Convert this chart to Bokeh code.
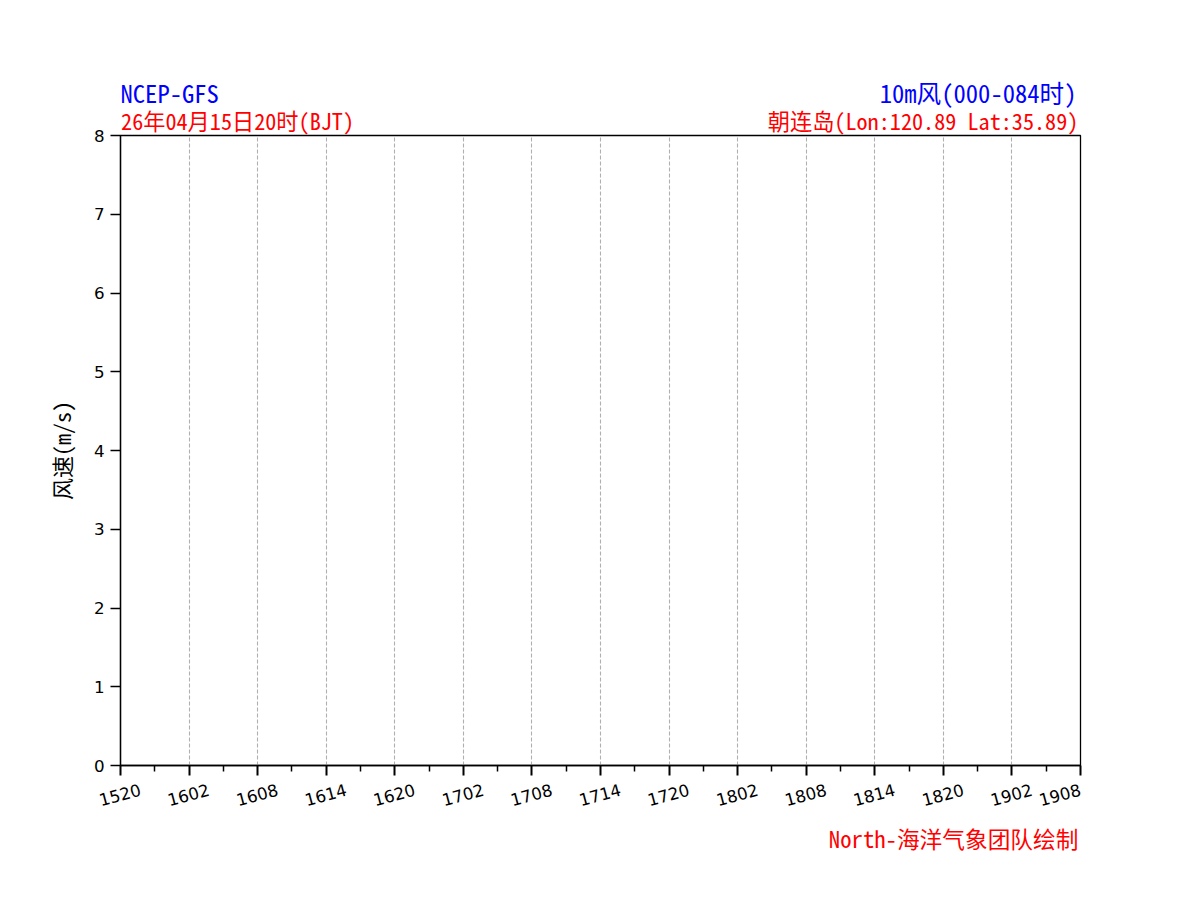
from bokeh.plotting import figure
from bokeh.models import Range1d, FixedTicker, LinearAxis
from bokeh.embed import file_html
from bokeh.resources import INLINE
import math

# ---- data ----
hours = [0, 6, 12, 18, 24, 30, 36, 42, 48, 54, 60, 66, 72, 78, 84]
minor_hours = [3, 9, 15, 21, 27, 33, 39, 45, 51, 57, 63, 69, 75, 81]
tick_labels = ["1520", "1602", "1608", "1614", "1620", "1702", "1708", "1714",
               "1720", "1802", "1808", "1814", "1820", "1902", "1908"]
y_ticks = [0, 1, 2, 3, 4, 5, 6, 7, 8]
wind_hours = []   # no series values shown in the reference
wind_speed = []

title_left_1 = "NCEP-GFS"
title_left_2 = "26年04月15日20时(BJT)"
title_right_1 = "10m风(000-084时)"
title_right_2 = "朝连岛(Lon:120.89 Lat:35.89)"
credit = "North-海洋气象团队绘制"
y_label = "风速(m/s)"

CJK = "'Noto Sans Mono CJK SC', 'Noto Sans CJK SC', sans-serif"
W, H = 1184, 884
L_B, T_B = 120, 135
FRAME_W, FRAME_H = 960, 630
R_B = W - L_B - FRAME_W
B_B = H - T_B - FRAME_H
X_MAX = 84
PX_PER_H = FRAME_W / X_MAX


def mono_width(text, size):
    # half-width latin / full-width CJK in the monospace CJK font
    return sum(size if ord(c) > 0x2E80 else size / 2 for c in text)


def centre_from_left(text, size, left_px):
    return (left_px - L_B + mono_width(text, size) / 2) / PX_PER_H


def centre_from_right(text, size, right_px):
    return (right_px - L_B - mono_width(text, size) / 2) / PX_PER_H


def text_axis(texts, centres, color, size, standoff):
    return LinearAxis(ticker=FixedTicker(ticks=centres, minor_ticks=[]),
                      major_label_overrides={c: t for c, t in zip(centres, texts)},
                      major_label_orientation="horizontal",
                      major_label_text_font=CJK,
                      major_label_text_font_size=f"{size}px",
                      major_label_text_color=color,
                      major_label_standoff=standoff,
                      major_tick_out=0, major_tick_in=0,
                      minor_tick_out=0, minor_tick_in=0,
                      axis_line_color=None)


p = figure(width=W, height=H, output_backend="svg", toolbar_location=None,
           x_range=Range1d(0, X_MAX), y_range=Range1d(0, 8),
           min_border_left=L_B, min_border_right=R_B,
           min_border_top=T_B, min_border_bottom=B_B)
p.background_fill_color = "white"
p.border_fill_color = "white"
p.outline_line_color = "black"
p.outline_line_width = 1.3

p.line(wind_hours, wind_speed, line_color="#1f77b4", line_width=2)

# ---- main x axis: ticks only (configured before extra axes are added) ----
xax = p.xaxis[0]
xax.ticker = FixedTicker(ticks=hours, minor_ticks=minor_hours)
xax.major_label_overrides = {h: "" for h in hours}
xax.major_label_text_font_size = "1px"
xax.major_label_standoff = 0
xax.major_tick_out = 10
xax.major_tick_in = 0
xax.minor_tick_out = 6
xax.minor_tick_in = 0
xax.major_tick_line_width = 2
xax.minor_tick_line_width = 1.5
xax.axis_line_color = "black"
xax.axis_line_width = 1.3

# ---- y axis ----
yax = p.yaxis[0]
yax.ticker = FixedTicker(ticks=y_ticks, minor_ticks=[])
yax.major_label_text_font = "DejaVu Sans"
yax.major_label_text_font_size = "16.7px"
yax.major_label_text_color = "black"
yax.major_tick_out = 10
yax.major_tick_in = 0
yax.minor_tick_out = 0
yax.major_tick_line_width = 1.3
yax.axis_line_width = 1.3
yax.major_label_standoff = 6
yax.axis_label = y_label
yax.axis_label_text_font = CJK
yax.axis_label_text_font_size = "22px"
yax.axis_label_text_font_style = "normal"
yax.axis_label_text_color = "black"
yax.axis_label_standoff = 14

# ---- grid ----
p.xgrid.ticker = FixedTicker(ticks=hours)
p.xgrid.grid_line_color = "#b0b0b0"
p.xgrid.grid_line_dash = "4 2"
p.xgrid.grid_line_width = 1.1
p.ygrid.grid_line_color = None

# ---- rotated tick labels, centred under each tick ----
# rotated labels are anchored at their right end, so shift them ~20 px right;
# a tick beyond the range is not drawn, so the last one stays at the edge
shift = 1.75
label_pos = [min(h + shift, X_MAX) for h in hours]
lab_axis = LinearAxis(ticker=FixedTicker(ticks=label_pos, minor_ticks=[]),
                      major_label_overrides={lp: lab for lp, lab in zip(label_pos, tick_labels)},
                      major_label_orientation=math.radians(15),
                      major_label_text_font="DejaVu Sans",
                      major_label_text_font_size="16.7px",
                      major_label_text_color="black",
                      major_label_standoff=14,
                      major_tick_out=0, major_tick_in=0,
                      minor_tick_out=0, minor_tick_in=0,
                      axis_line_color=None)
p.add_layout(lab_axis, "below")

# ---- footer credit ----
FOOT_SZ = 22.7
foot_row = text_axis([credit], [centre_from_right(credit, FOOT_SZ, 1078)],
                     "#ff0000", FOOT_SZ, 6)
p.add_layout(foot_row, "below")

# ---- header rows (red row nearest the frame, blue row above it) ----
RED_SZ, BLUE_SZ = 22.2, 24.6
red_row = text_axis([title_left_2, title_right_2],
                    [centre_from_left(title_left_2, RED_SZ, 120.5),
                     centre_from_right(title_right_2, RED_SZ, 1078)],
                    "#ff0000", RED_SZ, 0)
blue_row = text_axis([title_left_1, title_right_1],
                     [centre_from_left(title_left_1, BLUE_SZ, 120),
                      centre_from_right(title_right_1, BLUE_SZ, 1076)],
                     "#0000ff", BLUE_SZ, -9)
p.add_layout(red_row, "above")
p.add_layout(blue_row, "above")

open("out.html", "w").write(file_html(p, INLINE))
